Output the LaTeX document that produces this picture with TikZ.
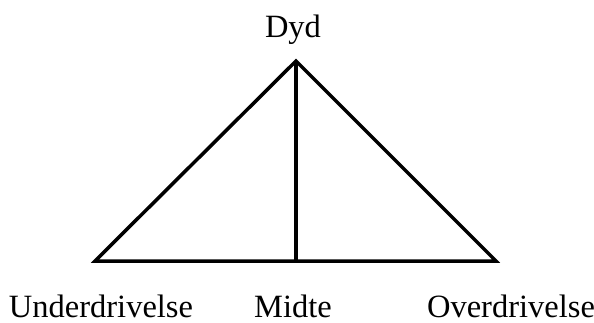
\documentclass[tikz,border=0pt]{standalone}
\usepackage{fontspec}
\setmainfont{Liberation Serif}
\begin{document}
\begin{tikzpicture}[x=1pt,y=-1pt,
  lbl/.style={anchor=base,inner sep=0pt,font=\fontsize{32.5}{38}\selectfont},
  edge/.style={line width=3.5pt,line join=miter,line cap=butt}]
\useasboundingbox (0,0) rectangle (594,322);
\coordinate (top) at (296,61);
\coordinate (bl) at (95,261);
\coordinate (br) at (496,261);
\coordinate (bm) at (296,261);
\draw[edge] (bl) -- (top) -- (br) -- cycle;
\draw[edge] (top) -- (bm);
\node[lbl] (dyd) at (293,37) {Dyd};
\node[lbl] (under) at (101,317) {Underdrivelse};
\node[lbl] (midte) at (293,317) {Midte};
\node[lbl] (over) at (511,317) {Overdrivelse};
\end{tikzpicture}
\end{document}
